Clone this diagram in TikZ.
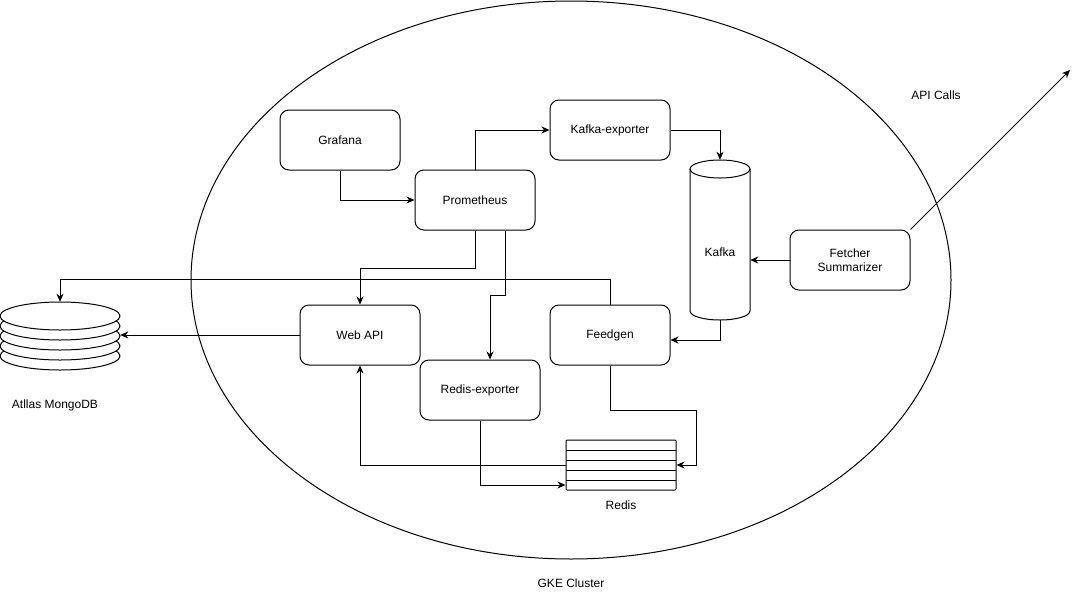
\documentclass[tikz,border=0pt]{standalone}
\usepackage{fontspec}
\setmainfont{Liberation Sans}
\usetikzlibrary{arrows.meta,calc}
\begin{document}
\begin{tikzpicture}[x=1pt,y=-1pt,
  every node/.style={font=\fontsize{12pt}{14pt}\selectfont, inner sep=0pt},
  svc/.style={draw, line width=1pt, rounded corners=9pt, minimum width=120pt, minimum height=60pt, align=center},
  conn/.style={line width=1pt, -{Stealth[length=8pt,width=7pt,inset=2.5pt]}},
  lbl/.style={align=center}
]
\useasboundingbox (0,0) rectangle (1080,611);
% cluster ellipse
\draw[line width=1pt] (571,280) ellipse[x radius=380pt, y radius=279pt];
\node[lbl] (gke) at (571,583) {GKE Cluster};
\node[lbl] (apicalls) at (936,95) {API Calls};

% services
\node[svc] (grafana) at (340,140) {Grafana};
\node[svc] (prom) at (475,200) {Prometheus};
\node[svc] (kexp) at (610,130) {Kafka-exporter};
\node[svc] (fetcher) at (850,260) {Fetcher\\Summarizer};
\node[svc] (webapi) at (360,335) {Web API};
\node[svc] (feedgen) at (610,335) {Feedgen};
\node[svc] (rexp) at (480,390) {Redis-exporter};

% Kafka cylinder
\node[minimum width=60pt, minimum height=160pt] (kafka) at (720,240) {};
\draw[line width=1pt] (690,169) -- (690,311) arc[start angle=180, end angle=360, x radius=30pt, y radius=9pt] -- (750,169);
\draw[line width=1pt] (720,169) ellipse[x radius=30pt, y radius=9pt];
\node[lbl] (kafkalbl) at (720,252) {Kafka};

% MongoDB stack
\node[minimum width=120pt, minimum height=68pt] (mongo) at (60,336) {};
\foreach \cy in {356,346,336,326,316}{
  \draw[line width=1pt, fill=white] (60,\cy) ellipse[x radius=60pt, y radius=14pt];
}
\node[lbl] (mongolbl) at (55,405) {Atllas MongoDB};

% Redis stack
\node[draw, line width=1pt, minimum width=110pt, minimum height=50pt, rounded corners=1pt] (redis) at (621,465) {};
\foreach \ry in {450,460,470,480}{
  \draw[line width=1pt] (566,\ry) -- (676,\ry);
}
\node[lbl] (redislbl) at (621,505) {Redis};

% connectors
\coordinate (apiend) at (1070,70);
\draw[conn] (grafana.south) |- (prom.west);
\draw[conn] (prom.north) |- (kexp.west);
\draw[conn] (kexp.east) -| (kafka.north);
\draw[conn] (fetcher.west) -- (fetcher.west -| kafka.east);
\draw[conn] (kafka.south) |- ([yshift=-5pt]feedgen.east);
\draw[conn] (prom.south) -- ++(0,38) -| (webapi.north);
\draw[conn] ([xshift=30pt]prom.south) -- ++(0,65) -| ([xshift=10pt]rexp.north);
\draw[conn] (feedgen.north) -- ++(0,-25) -| (mongo.north);
\draw[conn] (webapi.west) -- (webapi.west -| mongo.east);
\draw[conn] (rexp.south) |- ([yshift=-20pt]redis.west);
\draw[conn] (redis.west) -| (webapi.south);
\draw[conn] (feedgen.south) -- ++(0,45) -| ([xshift=20pt]redis.east) -- (redis.east);
\draw[conn] (fetcher.north east) -- (apiend);
\end{tikzpicture}
\end{document}
